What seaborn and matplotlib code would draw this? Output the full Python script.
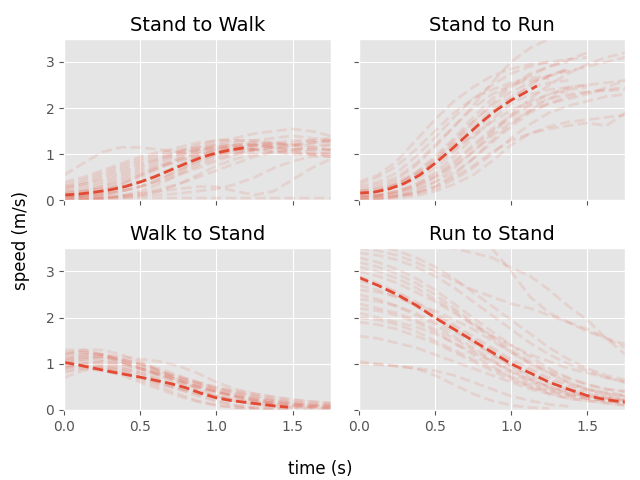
import numpy as np
import pandas as pd
import matplotlib
matplotlib.use("Agg")
import matplotlib.pyplot as plt
import seaborn as sns

plt.style.use("ggplot")

T = [0.0, 0.125, 0.25, 0.375, 0.5, 0.625, 0.75, 0.875, 1.0, 1.125, 1.25, 1.375, 1.5, 1.625, 1.75]
nan = float("nan")

titles = ["Stand to Walk", "Stand to Run", "Walk to Stand", "Run to Stand"]

stand_walk = [
    [0.55, 0.8, 1.05, 1.15, 1.15, 1.1, 1.05, 1.1, 1.15, 1.2, 1.2, 1.15, 1.1, 1.1, 1.1],
    [0.4, 0.5, 0.65, 0.8, 0.95, 1.05, 1.15, 1.25, 1.3, 1.3, 1.3, 1.35, 1.4, 1.35, 1.3],
    [0.3, 0.35, 0.45, 0.6, 0.75, 0.9, 1.05, 1.2, 1.3, 1.35, 1.45, 1.5, 1.55, 1.5, 1.4],
    [0.2, 0.25, 0.35, 0.5, 0.65, 0.8, 0.95, 1.1, 1.2, 1.25, 1.25, 1.2, 1.2, 1.25, 1.3],
    [0.1, 0.15, 0.25, 0.35, 0.5, 0.7, 0.9, 1.05, 1.15, 1.2, 1.2, 1.15, 1.1, 1.05, 1.0],
    [0.05, 0.1, 0.15, 0.25, 0.4, 0.55, 0.75, 0.95, 1.1, 1.2, 1.25, 1.25, 1.2, 1.2, 1.2],
    [0.15, 0.2, 0.3, 0.45, 0.6, 0.75, 0.85, 0.95, 1.0, 1.05, 1.1, 1.15, 1.2, 1.25, 1.3],
    [0.0, 0.05, 0.1, 0.2, 0.3, 0.45, 0.6, 0.8, 0.95, 1.05, 1.1, 1.1, 1.05, 1.0, 1.0],
    [0.25, 0.3, 0.4, 0.55, 0.7, 0.85, 1.0, 1.1, 1.15, 1.15, 1.1, 1.05, 1.0, 1.0, 1.05],
    [0.1, 0.1, 0.15, 0.2, 0.3, 0.4, 0.55, 0.7, 0.85, 1.0, 1.1, 1.15, 1.15, 1.1, 1.1],
    [0.05, 0.05, 0.1, 0.1, 0.15, 0.2, 0.25, 0.3, 0.3, 0.2, 0.12, 0.2, 0.45, 0.7, 0.9],
    [0.0, 0.0, 0.05, 0.05, 0.05, 0.05, 0.05, 0.05, 0.05, 0.05, 0.05, 0.05, 0.05, 0.05, 0.05],
    [0.0, 0.02, 0.05, 0.08, 0.1, 0.12, 0.15, 0.2, 0.25, 0.35, 0.5, 0.7, 0.85, 0.95, 0.95],
    [0.3, 0.4, 0.55, 0.7, 0.85, 0.95, 1.05, 1.15, 1.25, 1.3, 1.3, 1.25, 1.2, 1.15, 1.1],
    [0.2, 0.2, 0.25, 0.3, 0.4, 0.5, 0.65, 0.85, 1.0, 1.1, 1.15, nan, nan, nan, nan],
    [0.05, 0.1, 0.2, 0.35, 0.55, 0.75, 0.9, 1.0, 1.05, 1.1, 1.1, nan, nan, nan, nan],
    [0.1, 0.05, 0.05, 0.1, 0.15, 0.25, 0.35, 0.5, 0.65, 0.8, 0.95, 1.05, 1.1, 1.15, 1.2],
    [0.35, 0.45, 0.6, 0.75, 0.9, 1.0, 1.1, 1.15, 1.2, 1.2, nan, nan, nan, nan, nan],
    [0.0, 0.02, 0.05, 0.1, 0.2, 0.35, 0.55, 0.75, 0.9, 1.0, 1.05, nan, nan, nan, nan],
    [0.15, 0.2, 0.3, 0.4, 0.55, 0.7, 0.85, 1.0, 1.1, 1.15, 1.2, 1.2, nan, nan, nan],
    [0.05, 0.08, 0.12, 0.2, 0.3, 0.45, 0.65, 0.85, 1.0, 1.1, 1.15, 1.2, 1.25, 1.3, 1.35],
    [0.25, 0.35, 0.5, 0.65, 0.8, 0.9, 1.0, 1.05, 1.1, 1.1, nan, nan, nan, nan, nan],
    [0.1, 0.12, 0.18, 0.28, 0.42, 0.58, 0.75, 0.92, 1.05, 1.15, 1.2, 1.25, 1.3, 1.3, 1.25],
    [0.0, 0.0, 0.02, 0.05, 0.1, 0.2, 0.35, 0.55, 0.75, 0.9, 1.0, 1.05, 1.05, 1.0, 0.95],
]

stand_run = [
    [0.4, 0.55, 0.85, 1.3, 1.75, 2.15, 2.45, 2.7, 2.85, 2.95, 3.0, 3.05, 3.1, nan, nan],
    [0.3, 0.4, 0.6, 0.95, 1.35, 1.8, 2.2, 2.5, 2.75, 2.9, 3.0, nan, nan, nan, nan],
    [0.2, 0.3, 0.45, 0.75, 1.15, 1.6, 2.05, 2.55, 3.0, 3.3, 3.5, 3.65, nan, nan, nan],
    [0.1, 0.15, 0.3, 0.5, 0.85, 1.25, 1.7, 2.1, 2.45, 2.7, 2.9, 3.05, 3.2, nan, nan],
    [0.15, 0.2, 0.3, 0.45, 0.7, 1.05, 1.45, 1.85, 2.2, 2.5, 2.7, 2.85, nan, nan, nan],
    [0.05, 0.1, 0.2, 0.35, 0.6, 0.95, 1.35, 1.75, 2.1, 2.3, 2.4, 2.45, 2.5, 2.55, 2.6],
    [0.0, 0.05, 0.1, 0.2, 0.4, 0.7, 1.05, 1.45, 1.85, 2.2, 2.5, 2.75, 2.95, 3.1, 3.2],
    [0.1, 0.1, 0.15, 0.25, 0.4, 0.6, 0.9, 1.25, 1.6, 1.9, 2.1, 2.25, 2.35, 2.4, 2.45],
    [0.05, 0.05, 0.1, 0.15, 0.25, 0.45, 0.7, 1.0, 1.35, 1.65, 1.9, 2.05, 2.15, 2.25, 2.3],
    [0.0, 0.0, 0.05, 0.1, 0.2, 0.35, 0.55, 0.85, 1.2, 1.45, 1.6, 1.7, 1.75, 1.8, 1.85],
    [0.2, 0.25, 0.35, 0.55, 0.8, 1.1, 1.4, 1.7, 1.95, 2.15, 2.3, 2.4, 2.45, nan, nan],
    [0.25, 0.35, 0.5, 0.8, 1.2, 1.6, 2.0, 2.3, 2.5, 2.6, 2.65, nan, nan, nan, nan],
    [0.0, 0.05, 0.1, 0.18, 0.3, 0.5, 0.75, 1.05, 1.3, 1.45, 1.55, 1.62, 1.68, 1.62, 1.9],
    [0.35, 0.5, 0.75, 1.1, 1.5, 1.9, 2.2, 2.4, 2.55, 2.65, 2.7, 2.8, 2.9, 3.0, 3.1],
    [0.1, 0.2, 0.35, 0.6, 0.95, 1.35, 1.8, 2.2, 2.5, 2.75, 2.9, 3.0, nan, nan, nan],
    [0.05, 0.1, 0.15, 0.3, 0.5, 0.8, 1.15, 1.5, 1.8, 2.05, 2.2, 2.3, 2.35, 2.38, 2.4],
    [0.15, 0.2, 0.35, 0.55, 0.85, 1.2, 1.6, 1.95, 2.25, 2.45, 2.55, 2.6, nan, nan, nan],
    [0.05, 0.1, 0.2, 0.35, 0.55, 0.85, 1.2, 1.55, 1.85, 2.1, 2.3, 2.45, 2.5, nan, nan],
    [0.2, 0.25, 0.4, 0.6, 0.9, 1.3, 1.7, 2.05, 2.35, 2.55, 2.7, 2.85, nan, nan, nan],
    [0.1, 0.12, 0.2, 0.3, 0.5, 0.75, 1.05, 1.4, 1.7, 1.95, 2.1, 2.2, 2.3, 2.45, 2.6],
    [0.0, 0.02, 0.08, 0.15, 0.3, 0.55, 0.9, 1.3, 1.65, 1.95, 2.2, 2.4, nan, nan, nan],
]

walk_stand = [
    [1.2, 1.3, 1.3, 1.2, 1.05, 0.85, 0.65, 0.45, 0.3, 0.2, 0.12, 0.08, 0.05, 0.03, 0.02],
    [1.1, 1.2, 1.2, 1.1, 1.0, 0.9, 0.75, 0.6, 0.45, 0.35, 0.25, 0.18, 0.12, 0.08, 0.05],
    [1.0, 1.05, 1.0, 0.9, 0.8, 0.65, 0.5, 0.35, 0.2, 0.1, 0.05, 0.02, 0.0, nan, nan],
    [0.9, 0.95, 0.9, 0.8, 0.65, 0.5, 0.35, 0.2, 0.1, 0.05, 0.02, 0.0, nan, nan, nan],
    [1.25, 1.25, 1.2, 1.15, 1.1, 1.05, 0.95, 0.8, 0.6, 0.45, 0.35, 0.28, 0.22, 0.18, 0.15],
    [0.7, 0.85, 0.9, 0.85, 0.75, 0.6, 0.45, 0.3, 0.18, 0.1, 0.05, 0.03, 0.02, nan, nan],
    [1.05, 1.1, 1.05, 0.95, 0.85, 0.75, 0.65, 0.55, 0.45, 0.38, 0.3, 0.22, 0.15, 0.1, 0.08],
    [0.95, 1.0, 0.95, 0.85, 0.7, 0.55, 0.45, 0.35, 0.28, 0.22, 0.18, 0.15, 0.12, 0.1, 0.1],
    [1.15, 1.2, 1.15, 1.05, 0.9, 0.75, 0.6, 0.5, 0.4, 0.32, 0.25, 0.2, 0.15, 0.12, 0.1],
    [0.85, 0.9, 0.85, 0.75, 0.6, 0.45, 0.3, 0.18, 0.1, 0.05, 0.03, nan, nan, nan, nan],
    [1.0, 1.1, 1.15, 1.1, 1.0, 0.85, 0.7, 0.55, 0.4, 0.28, 0.18, 0.12, 0.08, 0.05, 0.03],
    [1.1, 1.15, 1.1, 1.0, 0.9, 0.8, 0.7, 0.6, 0.5, 0.42, 0.35, 0.28, 0.22, 0.18, 0.15],
    [0.95, 0.95, 0.9, 0.8, 0.7, 0.58, 0.48, 0.38, 0.3, 0.22, 0.15, 0.1, 0.06, 0.04, nan],
    [1.3, 1.3, 1.2, 1.05, 0.9, 0.75, 0.6, 0.48, 0.38, 0.3, 0.22, 0.15, nan, nan, nan],
    [1.05, 1.15, 1.15, 1.05, 0.95, 0.8, 0.65, 0.5, 0.38, 0.28, 0.2, 0.14, 0.1, 0.07, 0.05],
    [0.8, 0.9, 0.95, 0.9, 0.8, 0.68, 0.55, 0.42, 0.3, 0.2, 0.12, 0.07, 0.04, nan, nan],
    [1.2, 1.25, 1.2, 1.1, 0.98, 0.85, 0.72, 0.6, 0.48, 0.38, 0.3, 0.22, 0.17, 0.13, 0.1],
    [0.9, 1.0, 1.05, 1.0, 0.9, 0.78, 0.65, 0.52, 0.4, 0.3, 0.22, 0.15, 0.1, 0.06, 0.04],
]

run_stand = [
    [3.7, 3.7, 3.65, 3.6, 3.55, 3.5, 3.4, 3.3, 3.08, 2.9, 2.6, 2.25, 1.95, 1.55, 1.2],
    [3.6, 3.6, 3.6, 3.6, 3.6, 3.58, 3.55, 3.5, 3.0, 2.45, 2.1, 1.9, 1.7, 1.55, 1.42],
    [3.5, 3.45, 3.35, 3.2, 3.0, 2.8, 2.6, 2.45, 2.3, 2.2, 2.05, 1.9, 1.75, 1.55, 1.35],
    [3.3, 3.2, 3.05, 2.85, 2.6, 2.3, 2.0, 1.7, 1.4, 1.15, 0.9, 0.7, 0.55, 0.45, 0.4],
    [3.1, 3.0, 2.85, 2.65, 2.4, 2.15, 1.85, 1.55, 1.25, 1.0, 0.8, 0.6, 0.45, 0.35, 0.3],
    [2.9, 2.75, 2.55, 2.3, 2.05, 1.8, 1.55, 1.3, 1.05, 0.85, 0.65, 0.5, 0.4, 0.3, 0.25],
    [2.7, 2.6, 2.45, 2.25, 2.0, 1.75, 1.5, 1.2, 0.95, 0.7, 0.5, 0.35, 0.25, 0.2, 0.15],
    [2.5, 2.4, 2.25, 2.05, 1.85, 1.6, 1.35, 1.1, 0.85, 0.65, 0.5, 0.4, 0.3, 0.25, 0.2],
    [2.3, 2.2, 2.1, 1.95, 1.75, 1.55, 1.3, 1.05, 0.8, 0.6, 0.45, 0.35, 0.3, 0.25, 0.2],
    [2.1, 2.0, 1.9, 1.8, 1.65, 1.45, 1.25, 1.05, 0.85, 0.65, 0.5, 0.4, 0.3, 0.25, 0.2],
    [1.9, 1.85, 1.75, 1.6, 1.45, 1.25, 1.05, 0.85, 0.65, 0.5, 0.4, 0.3, 0.25, 0.2, 0.15],
    [1.05, 1.0, 0.95, 0.9, 0.75, 0.55, 0.35, 0.2, 0.1, 0.05, 0.03, nan, nan, nan, nan],
    [3.4, 3.35, 3.25, 3.1, 2.9, 2.65, 2.35, 2.05, 1.75, 1.45, 1.2, 1.0, 0.85, 0.7, 0.6],
    [3.0, 2.9, 2.75, 2.55, 2.35, 2.1, 1.85, 1.6, 1.4, 1.2, 1.05, 0.9, 0.8, 0.7, 0.6],
    [2.6, 2.55, 2.45, 2.3, 2.15, 1.95, 1.75, 1.5, 1.25, 1.0, 0.8, 0.6, 0.45, 0.35, 0.3],
    [2.2, 2.15, 2.05, 1.9, 1.7, 1.45, 1.2, 0.95, 0.7, 0.5, 0.35, 0.25, 0.2, 0.15, 0.1],
    [3.6, 3.55, 3.45, 3.3, 3.1, 2.85, 2.55, 2.25, 1.95, 1.65, 1.35, 1.1, 0.9, 0.75, 0.65],
    [1.6, 1.55, 1.45, 1.35, 1.2, 1.05, 0.9, 0.75, 0.6, 0.45, 0.35, 0.25, 0.2, 0.15, 0.1],
    [2.8, 2.7, 2.55, 2.35, 2.1, 1.85, 1.6, 1.35, 1.1, 0.9, 0.7, 0.55, 0.45, 0.38, 0.32],
    [2.4, 2.35, 2.25, 2.1, 1.9, 1.7, 1.45, 1.2, 0.95, 0.75, 0.58, 0.45, 0.35, 0.28, 0.22],
    [3.2, 3.1, 2.95, 2.75, 2.5, 2.2, 1.9, 1.6, 1.3, 1.05, 0.85, 0.68, 0.55, 0.45, 0.4],
    [2.0, 1.95, 1.85, 1.7, 1.5, 1.3, 1.1, 0.9, 0.72, 0.55, 0.42, 0.32, 0.25, 0.2, 0.15],
    [1.0, 0.98, 0.95, 0.9, 0.85, 0.75, 0.6, 0.45, 0.3, 0.2, 0.12, 0.08, nan, nan, nan],
]

mean_t_sw = [0.0, 0.1, 0.2, 0.3, 0.4, 0.5, 0.6, 0.7, 0.8, 0.9, 1.0, 1.1, 1.2]
mean_sw = [0.12, 0.14, 0.18, 0.23, 0.3, 0.4, 0.52, 0.66, 0.8, 0.93, 1.03, 1.1, 1.15]

mean_t_sr = [0.0, 0.1, 0.2, 0.3, 0.4, 0.5, 0.6, 0.7, 0.8, 0.9, 1.0, 1.1, 1.17]
mean_sr = [0.16, 0.18, 0.25, 0.37, 0.55, 0.8, 1.08, 1.38, 1.68, 1.95, 2.17, 2.35, 2.48]

mean_t_ws = [0.0, 0.1, 0.2, 0.3, 0.4, 0.5, 0.6, 0.7, 0.8, 0.9, 1.0, 1.1, 1.2, 1.3, 1.4, 1.47]
mean_ws = [1.03, 0.97, 0.9, 0.83, 0.77, 0.71, 0.64, 0.57, 0.48, 0.36, 0.26, 0.2, 0.16, 0.12, 0.08, 0.06]

mean_t_rs = T
mean_rs = [2.87, 2.7, 2.5, 2.27, 2.0, 1.75, 1.5, 1.25, 1.0, 0.8, 0.6, 0.45, 0.31, 0.22, 0.17]

trials = [stand_walk, stand_run, walk_stand, run_stand]
means = [(mean_t_sw, mean_sw), (mean_t_sr, mean_sr), (mean_t_ws, mean_ws), (mean_t_rs, mean_rs)]

color = "#E24A33"

fig, axes = plt.subplots(2, 2, sharex=True, sharey=True, figsize=(6.4, 4.8), dpi=100)
fig.subplots_adjust(left=0.1, right=0.977, top=0.919, bottom=0.146, wspace=0.105, hspace=0.296)

for ax, title, group, (mt, mv) in zip(axes.flat, titles, trials, means):
    rows = []
    for k, vals in enumerate(group):
        for t, v in zip(T, vals):
            rows.append({"trial": k, "t": t, "v": v})
    df = pd.DataFrame(rows).dropna()
    sns.lineplot(data=df, x="t", y="v", units="trial", estimator=None,
                 color=color, alpha=0.12, linestyle="--", linewidth=2, ax=ax)
    mdf = pd.DataFrame({"t": mt, "v": mv})
    sns.lineplot(data=mdf, x="t", y="v", color=color, linestyle="--",
                 linewidth=2, ax=ax)
    ax.set_title(title, fontsize=14)
    ax.set_xlabel("")
    ax.set_ylabel("")
    ax.set_xlim(0, 1.75)
    ax.set_ylim(0, 3.5)
    ax.set_xticks([0.0, 0.5, 1.0, 1.5])
    ax.set_yticks([0, 1, 2, 3])

fig.supxlabel("time (s)", y=0.004, fontsize=12)
fig.supylabel("speed (m/s)", x=0.019, fontsize=12)

fig.savefig("out.png", dpi=100)
